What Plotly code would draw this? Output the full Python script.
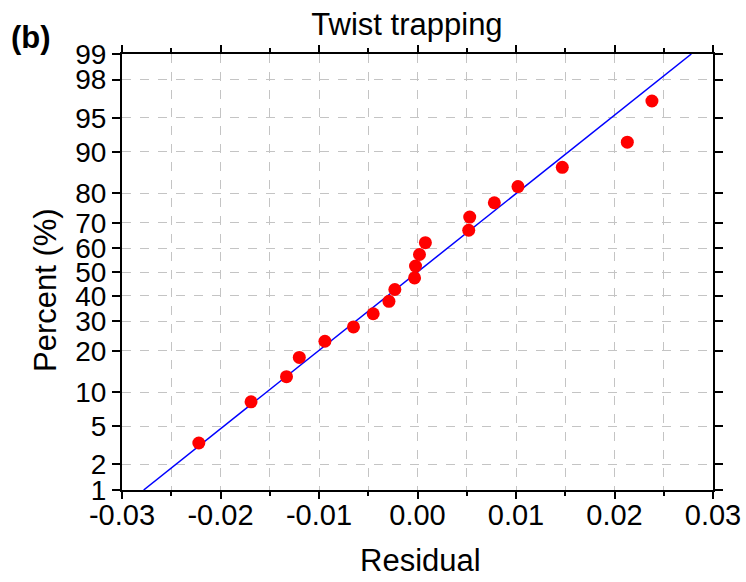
from statistics import NormalDist
import plotly.graph_objects as go

# Residuals (sorted) and their plotting percentages
residuals = [-0.0222, -0.0169, -0.0133, -0.0120, -0.0094, -0.0065, -0.0045, -0.0029,
             -0.0023, -0.0003, -0.0002, 0.0002, 0.0008, 0.0052, 0.0053, 0.0078,
             0.0102, 0.0147, 0.0213, 0.0238]
percents = [3.4, 8.3, 13.2, 18.1, 23.0, 27.9, 32.8, 37.7, 42.6, 47.5,
            52.5, 57.4, 62.3, 67.2, 72.1, 77.0, 81.9, 86.8, 91.7, 96.6]

# Reference (fitted) line end points
fit_x = [-0.0278, 0.0278]
fit_pct = [1, 99]

y_ticks = [1, 2, 5, 10, 20, 30, 40, 50, 60, 70, 80, 90, 95, 98, 99]
x_ticks = [-0.03, -0.02, -0.01, 0.00, 0.01, 0.02, 0.03]
x_ticktext = ["-0.03", "-0.02", "-0.01", "0.00", "0.01", "0.02", "0.03"]

nd = NormalDist()
z = lambda p: nd.inv_cdf(p / 100.0)

FONT = "Liberation Sans, Arial, sans-serif"

fig = go.Figure()
fig.add_trace(go.Scatter(
    x=fit_x, y=[z(p) for p in fit_pct], mode="lines",
    line=dict(color="#0000ff", width=1.5), showlegend=False, hoverinfo="skip"))
fig.add_trace(go.Scatter(
    x=residuals, y=[z(p) for p in percents], mode="markers",
    marker=dict(color="#ff0000", size=13, line=dict(width=0)), showlegend=False))

W, H = 746, 582
L, R, T, B = 122, 33, 54, 92
PW, PH = W - L - R, H - T - B
grid = dict(showgrid=True, gridcolor="#c4c4c4", griddash="dash", gridwidth=1)
fig.update_layout(
    width=W, height=H,
    margin=dict(l=L, r=R, t=T, b=B, autoexpand=False),
    paper_bgcolor="white", plot_bgcolor="white",
    font=dict(family=FONT, color="black"),
    title=dict(text="Twist trapping", font=dict(family=FONT, size=31),
               x=(407 - L) / PW, xref="paper", xanchor="center",
               y=1 - 24 / H, yref="container", yanchor="middle"),
    xaxis=dict(
        range=[-0.03, 0.03], tickvals=x_ticks, ticktext=x_ticktext,
        ticks="outside", ticklen=7, tickwidth=1.5, tickcolor="black",
        tickfont=dict(family=FONT, size=29), automargin=False,
        ticklabelstandoff=-9,
        showline=True, linewidth=2, linecolor="black", mirror="ticks",
        zeroline=False, **grid,
        minor=dict(dtick=0.005, tick0=0, ticks="outside", ticklen=4, tickwidth=1.5,
                   tickcolor="black", **grid),
    ),
    yaxis=dict(
        range=[z(1), z(99)], tickvals=[z(p) for p in y_ticks],
        ticktext=[str(p) for p in y_ticks],
        ticks="outside", ticklen=8, tickwidth=1.5, tickcolor="black",
        tickfont=dict(family=FONT, size=28), automargin=False,
        showline=True, linewidth=2, linecolor="black", mirror="ticks",
        zeroline=False, **grid,
    ),
)
# axis titles and panel label
fig.add_annotation(text="Residual", xref="paper", yref="paper",
                   x=(420 - L) / PW, y=-(560 - T - PH) / PH,
                   xanchor="center", yanchor="middle", showarrow=False,
                   font=dict(family=FONT, size=31, color="black"))
fig.add_annotation(text="Percent (%)", xref="paper", yref="paper",
                   x=(45 - L) / PW, y=1 - (290 - T) / PH, textangle=-90,
                   xanchor="center", yanchor="middle", showarrow=False,
                   font=dict(family=FONT, size=31, color="black"))
fig.add_annotation(text="<b>(b)</b>", xref="paper", yref="paper",
                   x=(9 - L) / PW, y=1 + (T - 37) / PH,
                   xanchor="left", yanchor="middle", showarrow=False,
                   font=dict(family=FONT, size=31, color="black"))

fig.write_html("out.html")
